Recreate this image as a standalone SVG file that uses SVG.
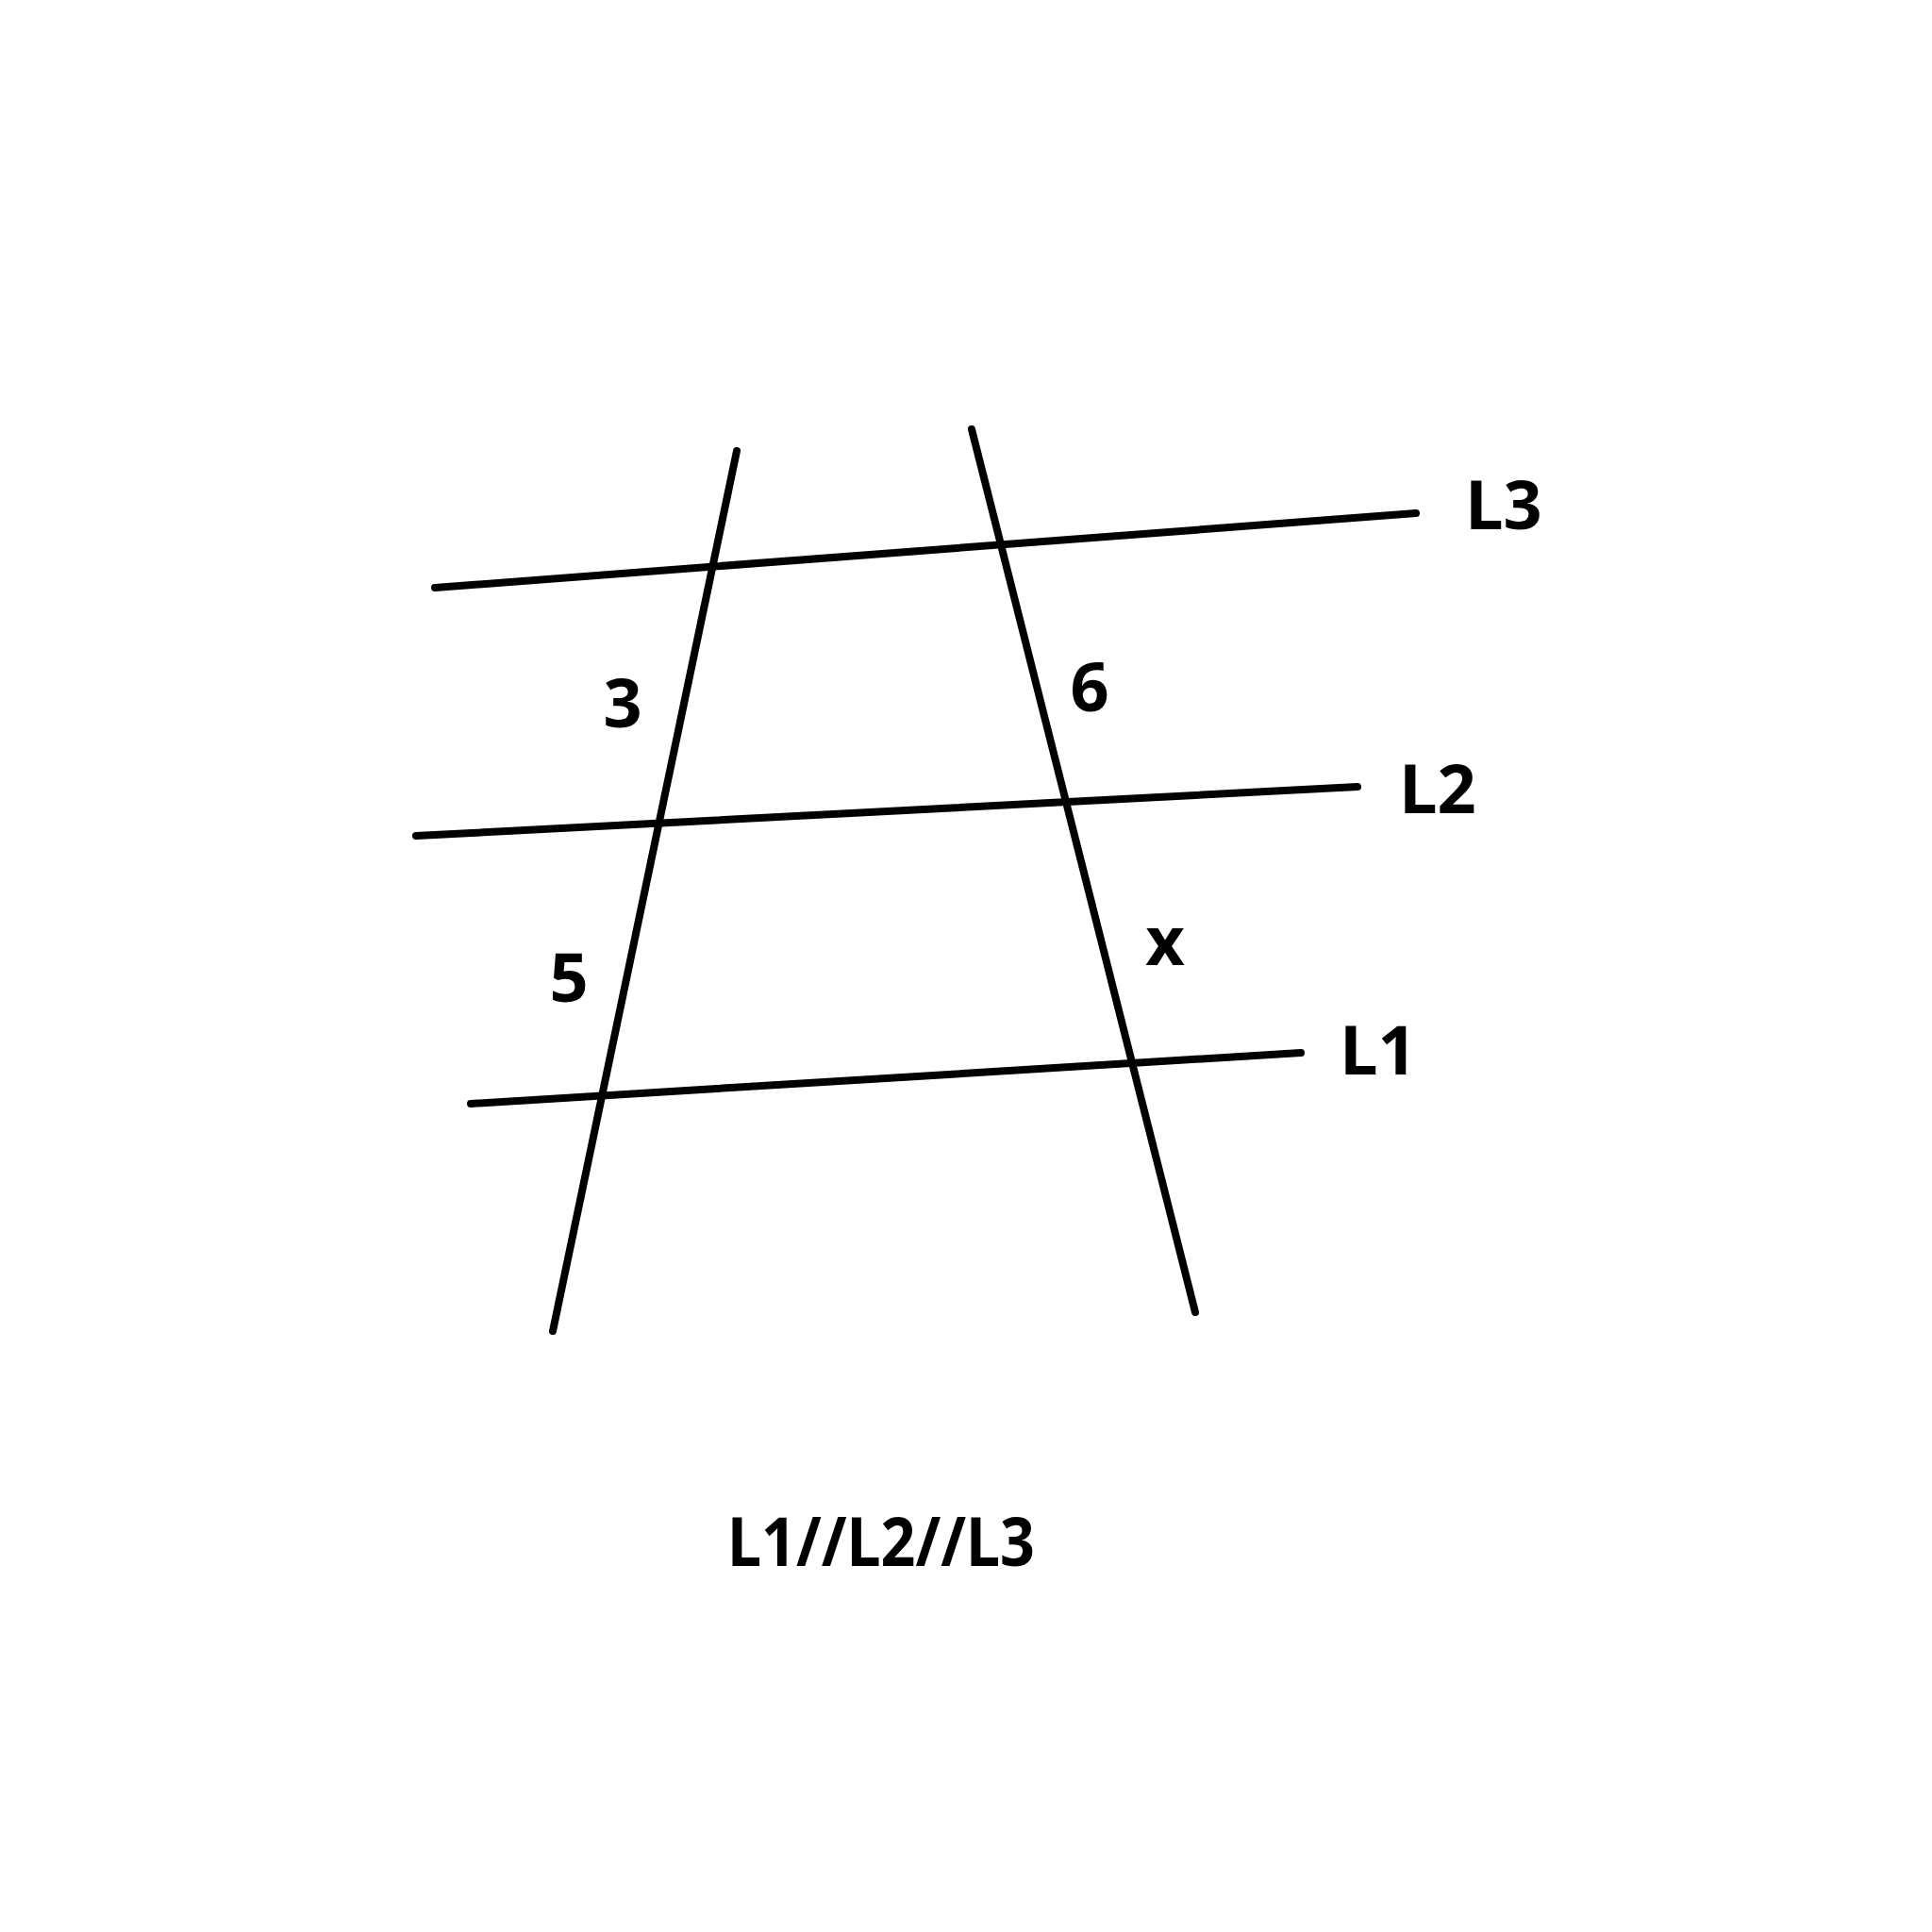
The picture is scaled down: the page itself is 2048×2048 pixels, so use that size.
<svg xmlns="http://www.w3.org/2000/svg" width="2048" height="2048" viewBox="0 0 2048 2048">
<style>
.ln{stroke:#000;stroke-width:8;stroke-linecap:round;fill:none}
.lb{font-family:"Noto Sans","Open Sans",sans-serif;font-weight:700;font-size:72px;fill:#000;text-anchor:middle}
</style>
<rect width="2048" height="2048" fill="#fff"/>
<g id="connectors">
<line class="ln" x1="781" y1="478" x2="586" y2="1411"/>
<line class="ln" x1="1030" y1="455" x2="1267" y2="1391"/>
<line class="ln" x1="461" y1="623" x2="1501" y2="544"/>
<line class="ln" x1="441" y1="886" x2="1439" y2="834"/>
<line class="ln" x1="499" y1="1170" x2="1379" y2="1116"/>
</g>
<g id="label-L3"><text class="lb" x="1594" y="561">L3</text></g>
<g id="label-L2"><text class="lb" x="1524" y="862">L2</text></g>
<g id="label-L1"><text class="lb" x="1461" y="1139">L1</text></g>
<g id="label-3"><text class="lb" x="660" y="771">3</text></g>
<g id="label-6"><text class="lb" x="1155" y="754">6</text></g>
<g id="label-5"><text class="lb" x="603" y="1062">5</text></g>
<g id="label-x"><text class="lb" x="1235" y="1023">x</text></g>
<g id="caption"><text class="lb" x="934" y="1660" textLength="326" lengthAdjust="spacingAndGlyphs">L1//L2//L3</text></g>
</svg>
